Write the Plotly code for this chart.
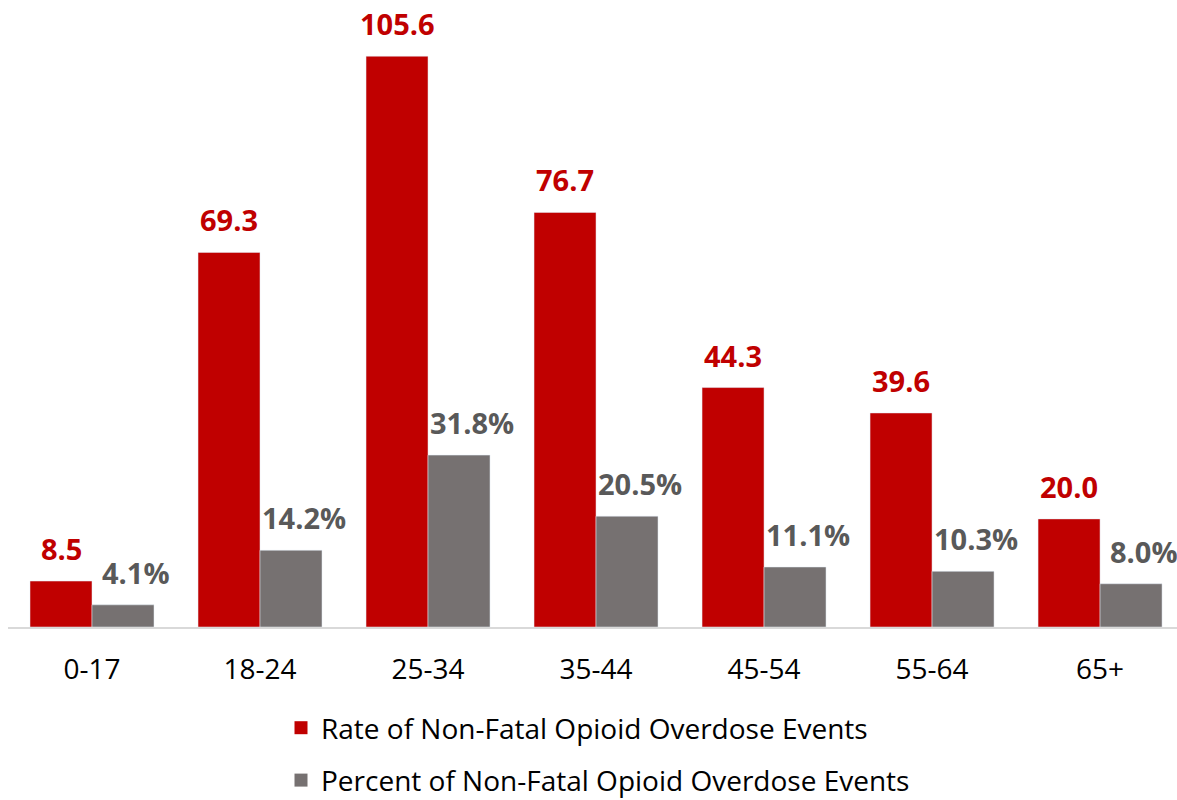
import plotly.graph_objects as go

categories = ["0-17", "18-24", "25-34", "35-44", "45-54", "55-64", "65+"]
rate_values = [8.5, 69.3, 105.6, 76.7, 44.3, 39.6, 20.0]
percent_values = [4.1, 14.2, 31.8, 20.5, 11.1, 10.3, 8.0]
rate_labels = [f"{v:.1f}" for v in rate_values]
percent_labels = [f"{v:.1f}%" for v in percent_values]
series_names = ["Rate of Non-Fatal Opioid Overdose Events",
                "Percent of Non-Fatal Opioid Overdose Events"]

RED = "#C00000"
GRAY = "#767171"
GRAY_TXT = "#595959"
FONT = "Open Sans"

fig = go.Figure()
fig.add_trace(go.Bar(
    x=categories, y=rate_values, name=series_names[0],
    marker=dict(color=RED), showlegend=False, hoverinfo="skip"))
fig.add_trace(go.Bar(
    x=categories, y=percent_values, name=series_names[1],
    marker=dict(color=GRAY), showlegend=False, hoverinfo="skip"))

# legend-only entries with square swatches
for name, col, grp in zip(series_names, [RED, GRAY], ["a", "b"]):
    fig.add_trace(go.Scatter(
        x=[None], y=[None], mode="markers", name=name, legendgroup=grp,
        marker=dict(symbol="square", size=13, color=col), hoverinfo="skip"))

half = 31
for c, v, t in zip(categories, rate_values, rate_labels):
    fig.add_annotation(x=c, y=v, xref="x", yref="y", text=f"<b>{t}</b>", showarrow=False,
                       xshift=-half, yanchor="bottom", yshift=11,
                       font=dict(family=FONT, size=29, color=RED))
for c, v, t in zip(categories, percent_values, percent_labels):
    fig.add_annotation(x=c, y=v, xref="x", yref="y", text=f"<b>{t}</b>", showarrow=False,
                       xshift=half + 13, yanchor="bottom", yshift=11,
                       font=dict(family=FONT, size=29, color=GRAY_TXT))

fig.update_layout(
    width=1177, height=800,
    margin=dict(l=8, r=0, t=20, b=173, autoexpand=False),
    paper_bgcolor="white", plot_bgcolor="white",
    barmode="group", bargap=0.262, bargroupgap=0,
    font=dict(family=FONT, color="black"),
    showlegend=True,
    legend=dict(orientation="v", xref="container", x=281 / 1177, xanchor="left",
                yref="container", y=1 - 703 / 800, yanchor="top",
                font=dict(family=FONT, size=28, color="black"),
                traceorder="grouped", tracegroupgap=13, itemclick=False,
                itemsizing="trace"),
    xaxis=dict(type="category", range=[-0.5, 6.458], showgrid=False, zeroline=False,
               showline=True, linecolor="#D9D9D9", linewidth=2,
               ticks="", tickfont=dict(family=FONT, size=28, color="black"),
               ticklabelstandoff=16),
    yaxis=dict(range=[0, 112.3], visible=False, showgrid=False, zeroline=False),
)

fig.write_html("out.html", config={"displayModeBar": False},
               post_script="document.body.style.margin='0';")
